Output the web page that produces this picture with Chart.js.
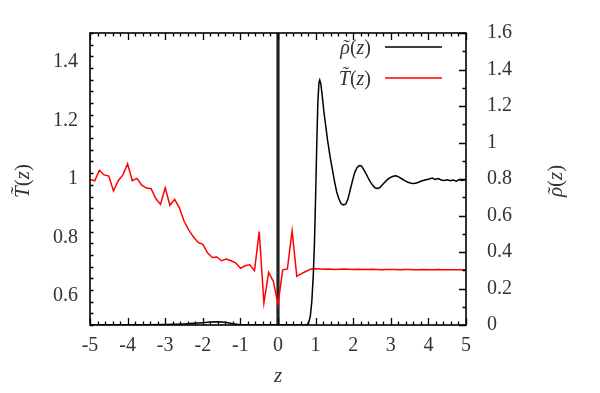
<!DOCTYPE html>
<html><head><meta charset="utf-8">
<script src="https://cdn.jsdelivr.net/npm/chart.js@4.4.0/dist/chart.umd.min.js"></script>
<style>html,body{margin:0;padding:0;background:#fff}</style>
</head><body>
<canvas id="c" width="600" height="393"></canvas>
<script>
// ---- data ----
const zT = [-5.000,-4.875,-4.750,-4.625,-4.500,-4.375,-4.250,-4.125,-4.000,-3.875,-3.750,-3.625,-3.500,-3.375,-3.250,-3.125,
  -3.000,-2.875,-2.750,-2.625,-2.500,-2.375,-2.250,-2.125,-2.000,-1.875,-1.750,-1.625,-1.500,-1.375,-1.250,-1.125,
  -1.000,-0.875,-0.750,-0.625,-0.500,-0.375,-0.250,-0.125,0.000,0.125,0.250,0.375,0.500,0.625,0.750,0.875,
  1.000,1.125,1.250,1.375,1.500,1.625,1.750,1.875,2.000,2.125,2.250,2.375,2.500,2.625,2.750,2.875,
  3.000,3.125,3.250,3.375,3.500,3.625,3.750,3.875,4.000,4.125,4.250,4.375,4.500,4.625,4.750,4.875,5.000];
const tempT = [0.998,0.994,1.030,1.014,1.010,0.959,0.994,1.014,1.052,0.994,1.002,0.979,0.969,0.967,0.933,0.913,
  0.970,0.910,0.930,0.902,0.856,0.826,0.802,0.783,0.776,0.747,0.731,0.733,0.720,0.726,0.720,0.713,
  0.694,0.703,0.706,0.686,0.820,0.576,0.680,0.650,0.572,0.689,0.692,0.822,0.667,0.676,0.684,0.692,
  0.693,0.692,0.691,0.692,0.690,0.691,0.692,0.691,0.690,0.691,0.690,0.690,0.691,0.690,0.689,0.690,
  0.690,0.690,0.689,0.690,0.690,0.689,0.689,0.690,0.689,0.689,0.690,0.689,0.689,0.689,0.689,0.689,0.689];

const zRho = [-5.0,-4.5,-4.0,-3.5,-3.0,-2.75,-2.5,-2.25,-2.0,-1.8,-1.6,-1.4,-1.2,-1.0,-0.8,-0.5,0.0,0.5,0.70,
  0.78,0.82,0.86,0.90,0.94,0.97,1.00,1.03,1.06,1.09,1.11,1.14,1.18,1.22,1.27,1.32,1.38,1.44,1.50,1.56,1.62,1.68,1.74,1.80,
  1.86,1.92,1.98,2.04,2.10,2.16,2.22,2.28,2.34,2.40,2.46,2.52,2.58,2.64,2.70,2.76,2.82,2.90,2.98,3.06,3.14,3.22,3.30,
  3.38,3.46,3.54,3.62,3.70,3.78,3.86,3.94,4.02,4.10,4.18,4.26,4.34,4.42,4.50,4.58,4.66,4.74,4.82,4.90,5.00];
const rho = [0.001,0.001,0.002,0.002,0.003,0.004,0.006,0.009,0.013,0.016,0.018,0.015,0.007,0.002,0.000,0.000,0.000,0.000,0.000,
  0.003,0.015,0.050,0.130,0.280,0.450,0.700,0.980,1.220,1.330,1.342,1.320,1.250,1.170,1.090,1.010,0.930,0.860,0.790,0.730,0.690,0.665,0.658,0.662,
  0.690,0.740,0.790,0.835,0.862,0.874,0.872,0.852,0.830,0.805,0.783,0.765,0.752,0.748,0.752,0.764,0.778,0.795,0.808,0.815,0.818,0.810,0.800,
  0.790,0.782,0.777,0.775,0.779,0.786,0.792,0.796,0.800,0.805,0.798,0.803,0.795,0.792,0.796,0.790,0.794,0.788,0.797,0.792,0.797];

const wallZ = [0, 0];
const wallT = [0.5, 1.5];

const zTicks = [-5,-4,-3,-2,-1,0,1,2,3,4,5];
const tTicks = [0.6,0.8,1,1.2,1.4];
const rhoTicks = [0,0.2,0.4,0.6,0.8,1,1.2,1.4,1.6];

const labelRho = 'ρ̃(z)';
const labelT = 'T̃(z)';
const labelZ = 'z';

// ---- chart ----
const SERIF = '"Liberation Serif", "DejaVu Serif", serif';
const TXT = '#333';
const pts = (xs, ys) => xs.map((x, i) => ({x: x, y: ys[i]}));

// draws e.g. "T̃(z)" as italic symbol with tilde, upright parens, italic z
function drawMath(ctx, label, x, y, size, align) {
  const hasTilde = label.charAt(1) === '\u0303';
  const sym = label.charAt(0);
  const rest = hasTilde ? label.slice(2) : label.slice(1);
  const parts = [{t: sym, it: true, tilde: hasTilde}];
  for (const ch of rest) parts.push({t: ch, it: /[a-zA-Z]/.test(ch)});
  const fontOf = p => (p.it ? 'italic ' : '') + size + 'px ' + SERIF;
  let total = 0;
  parts.forEach(p => { ctx.font = fontOf(p); p.w = ctx.measureText(p.t).width; total += p.w; });
  let cx = align === 'right' ? x - total : (align === 'center' ? x - total / 2 : x);
  ctx.textAlign = 'left';
  ctx.textBaseline = 'alphabetic';
  const base = y + size * 0.33;
  parts.forEach(p => {
    ctx.font = fontOf(p);
    ctx.fillText(p.t, cx, base);
    if (p.tilde) {
      ctx.font = size + 'px ' + SERIF;
      ctx.textAlign = 'center';
      const top = sym === 'T' ? size * 0.62 : size * 0.42;
      ctx.fillText('\u02DC', cx + p.w / 2 + size * 0.08, base - top + size * 0.42);
      ctx.textAlign = 'left';
    }
    cx += p.w;
  });
}

const decor = {
  id: 'decor',
  afterDatasetsDraw(chart) {
    const ctx = chart.ctx, a = chart.chartArea;
    const sx = chart.scales.x, sy = chart.scales.y, sr = chart.scales.y2;
    ctx.save();
    ctx.strokeStyle = '#000';
    ctx.lineWidth = 1.6;
    ctx.strokeRect(a.left, a.top, a.right - a.left, a.bottom - a.top);
    ctx.lineWidth = 1.3;
    ctx.beginPath();
    for (let i = 0; i <= 50; i++) {
      const v = -5 + i * 0.2;
      const p = Math.round(sx.getPixelForValue(v)) + 0.5;
      const len = (i % 5 === 0) ? 7 : 3.5;
      ctx.moveTo(p, a.bottom); ctx.lineTo(p, a.bottom - len);
      ctx.moveTo(p, a.top); ctx.lineTo(p, a.top + len);
    }
    for (let i = 0; i <= 25; i++) {
      const v = 0.5 + i * 0.04;
      const p = Math.round(sy.getPixelForValue(v)) + 0.5;
      const major = Math.abs(v / 0.2 - Math.round(v / 0.2)) < 1e-6;
      const len = major ? 7 : 3.5;
      ctx.moveTo(a.left, p); ctx.lineTo(a.left + len, p);
    }
    for (let i = 0; i <= 16; i++) {
      const v = i * 0.1;
      const p = Math.round(sr.getPixelForValue(v)) + 0.5;
      const len = (i % 2 === 0) ? 7 : 3.5;
      ctx.moveTo(a.right, p); ctx.lineTo(a.right - len, p);
    }
    ctx.stroke();

    // legend
    ctx.fillStyle = TXT;
    const ds = chart.data.datasets;
    const rows = [{ds: ds[0], y: 47}, {ds: ds[1], y: 78}];
    rows.forEach(r => {
      drawMath(ctx, r.ds.label, 371, r.y, 20, 'right');
      ctx.strokeStyle = r.ds.borderColor;
      ctx.lineWidth = 1.6;
      ctx.beginPath(); ctx.moveTo(385, r.y); ctx.lineTo(442, r.y); ctx.stroke();
    });

    // axis titles
    ctx.font = 'italic 21px ' + SERIF;
    ctx.textAlign = 'center';
    ctx.textBaseline = 'middle';
    ctx.fillText(labelZ, (a.left + a.right) / 2, 376);
    const cy = (a.top + a.bottom) / 2 + 2;
    ctx.save(); ctx.translate(22, cy); ctx.rotate(-Math.PI / 2); drawMath(ctx, labelT, 0, 0, 21, 'center'); ctx.restore();
    ctx.save(); ctx.translate(555, cy); ctx.rotate(-Math.PI / 2); drawMath(ctx, labelRho, 0, 0, 21, 'center'); ctx.restore();
    ctx.restore();
  }
};

const tickFont = {family: SERIF, size: 20};

new Chart(document.getElementById('c'), {
  type: 'line',
  data: {
    datasets: [
      {label: labelRho, data: pts(zRho, rho), yAxisID: 'y2', borderColor: '#000', borderWidth: 1.5, pointRadius: 0, tension: 0},
      {label: labelT, data: pts(zT, tempT), yAxisID: 'y', borderColor: '#ff0000', borderWidth: 1.5, pointRadius: 0, tension: 0},
      {label: 'wall', data: pts(wallZ, wallT), yAxisID: 'y', borderColor: '#222', borderWidth: 3.2, pointRadius: 0, tension: 0}
    ]
  },
  options: {
    responsive: false,
    animation: false,
    layout: {padding: {top: 25, left: 0, right: 0, bottom: 0}},
    plugins: {legend: {display: false}, tooltip: {enabled: false}},
    scales: {
      x: {
        type: 'linear', min: -5, max: 5,
        afterBuildTicks: s => { s.ticks = zTicks.map(v => ({value: v})); },
        afterFit: s => { s.height = 68; },
        grid: {display: false, drawTicks: false}, border: {display: false},
        ticks: {font: tickFont, color: TXT, padding: 9, maxRotation: 0, autoSkip: false, callback: v => String(v)}
      },
      y: {
        type: 'linear', position: 'left', min: 0.5, max: 1.5,
        afterBuildTicks: s => { s.ticks = tTicks.map(v => ({value: v})); },
        afterFit: s => { s.width = 90; },
        grid: {display: false, drawTicks: false}, border: {display: false},
        ticks: {font: tickFont, color: TXT, padding: 12, autoSkip: false, callback: v => String(v)}
      },
      y2: {
        type: 'linear', position: 'right', min: 0, max: 1.6,
        afterBuildTicks: s => { s.ticks = rhoTicks.map(v => ({value: v})); },
        afterFit: s => { s.width = 134; },
        grid: {display: false, drawTicks: false}, border: {display: false},
        ticks: {font: tickFont, color: TXT, padding: 21, autoSkip: false, callback: v => String(v)}
      }
    }
  },
  plugins: [decor]
});
</script>
</body></html>
